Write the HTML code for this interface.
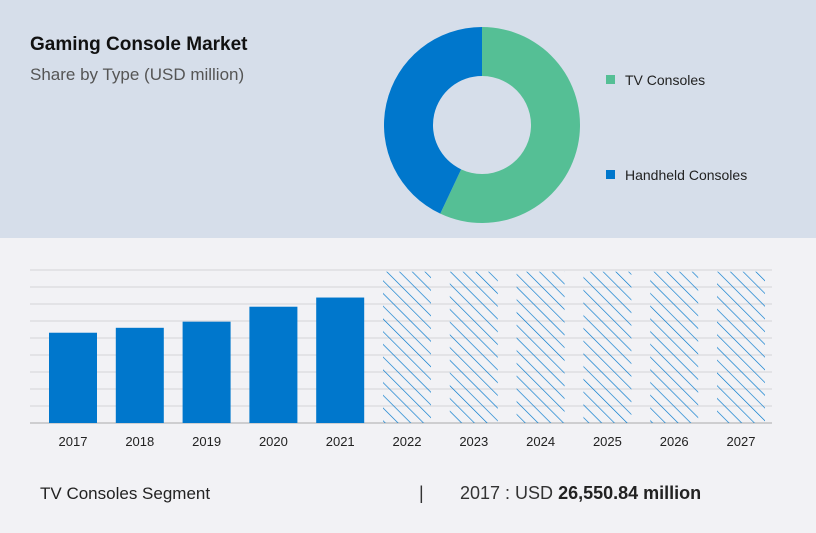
<!DOCTYPE html>
<html><head><meta charset="utf-8"><style>
body{margin:0;width:816px;height:528px;overflow:hidden;font-family:"Liberation Sans",sans-serif;background:#f2f2f5}
</style></head><body>
<svg width="816" height="528" xmlns="http://www.w3.org/2000/svg" id="chart">
<defs><pattern id="hatch" patternUnits="userSpaceOnUse" width="9" height="9" patternTransform="rotate(-45)">
<line x1="0" y1="0" x2="0" y2="9" stroke="#0077cc" stroke-width="1.3"/></pattern></defs>
<rect x="0" y="0" width="816" height="238" fill="#d6deea"/>
<text x="30" y="50" font-size="19" font-weight="bold" fill="#111">Gaming Console Market</text>
<text x="30" y="80" font-size="17" fill="#555">Share by Type (USD million)</text>
<g id="donut"></g>
<rect x="606" y="75" width="9" height="9" fill="#55bf95"/>
<text x="625" y="85" font-size="14" fill="#222">TV Consoles</text>
<rect x="606" y="170" width="9" height="9" fill="#0077cc"/>
<text x="625" y="180" font-size="14" fill="#222">Handheld Consoles</text>
<g id="grid"></g>
<g id="bars"></g>
<g id="xlabels"></g>
<text x="40" y="499" font-size="17" fill="#222">TV Consoles Segment</text>
<text x="419" y="499" font-size="18" fill="#333">|</text>
<text x="460" y="499" font-size="18" fill="#333">2017 : USD <tspan font-weight="bold" fill="#222">26,550.84 million</tspan></text>
</svg>
<script>
const years=["2017","2018","2019","2020","2021","2022","2023","2024","2025","2026","2027"];
const values=[26550.84,28000,29800,34200,36900,44500,44500,44500,44500,44500,44500];
const forecast=[false,false,false,false,false,true,true,true,true,true,true];
const shareLabels=["TV Consoles","Handheld Consoles"];
const shares=[57,43];
const NS="http://www.w3.org/2000/svg";
const yMax=45000,base=423,yTop=270,x0=39.6,slot=66.8,bw=48;
const y=v=>base-(v/yMax)*(base-yTop);
const x=i=>x0+slot*i+slot/2;
const grid=document.getElementById('grid');
for(let k=0;k<=9;k++){const l=document.createElementNS(NS,'line');


const yy=y(k*5000);l.setAttribute('x1',30);l.setAttribute('x2',772);l.setAttribute('y1',yy);l.setAttribute('y2',yy);
l.setAttribute('stroke',k==0?'#aaa':'#d4d4d8');l.setAttribute('stroke-width',1);grid.appendChild(l);}
const bars=document.getElementById('bars'),xl=document.getElementById('xlabels');
years.forEach((yr,i)=>{const r=document.createElementNS(NS,'rect');


r.setAttribute('x',x(i)-bw/2);r.setAttribute('width',bw);r.setAttribute('y',y(values[i]));r.setAttribute('height',base-y(values[i]));
r.setAttribute('fill',forecast[i]?'url(#hatch)':'#0077cc');bars.appendChild(r);
const t=document.createElementNS(NS,'text');


t.setAttribute('x',x(i));t.setAttribute('y',446);t.setAttribute('text-anchor','middle');t.setAttribute('font-size','13');t.setAttribute('fill','#222');t.textContent=yr;xl.appendChild(t);});
const d=document.getElementById('donut');const cx=482,cy=125,R=98,ri=49;const cols=["#55bf95","#0077cc"];
const tot=shares.reduce((a,b)=>a+b,0);let a0=0;
shares.forEach((s,i)=>{const a1=a0+s/tot*2*Math.PI;const p=(r,a)=>[cx+r*Math.sin(a),cy-r*Math.cos(a)];
const lg=(a1-a0)>Math.PI?1:0;const [x1,y1]=p(R,a0),[x2,y2]=p(R,a1),[x3,y3]=p(ri,a1),[x4,y4]=p(ri,a0);
const path=document.createElementNS(NS,'path');


path.setAttribute('d',`M${x1},${y1}A${R},${R} 0 ${lg} 1 ${x2},${y2}L${x3},${y3}A${ri},${ri} 0 ${lg} 0 ${x4},${y4}Z`);
path.setAttribute('fill',cols[i]);d.appendChild(path);a0=a1;});
</script>
</body></html>
